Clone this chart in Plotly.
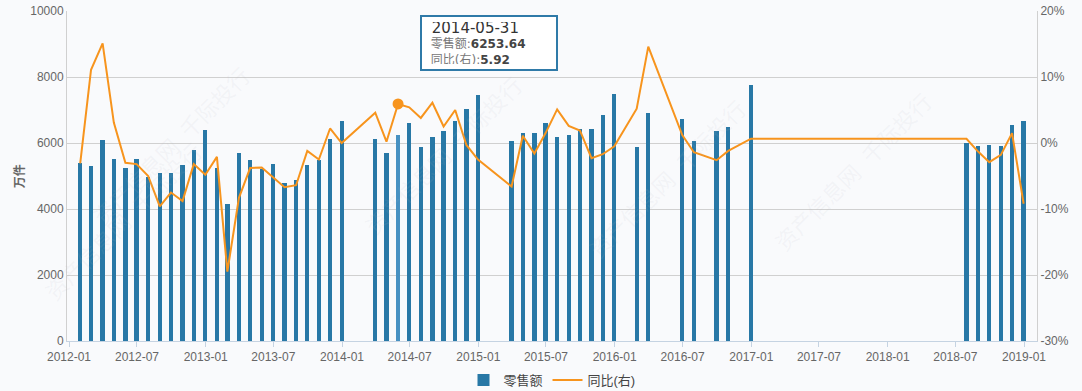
import calendar
import plotly.graph_objects as go

dates = (
    ["2012-%02d" % m for m in range(1, 13)]
    + ["2013-%02d" % m for m in range(1, 13)]
    + ["2014-%02d" % m for m in range(3, 13)]
    + ["2015-%02d" % m for m in range(3, 13)]
    + ["2016-02", "2016-03", "2016-06", "2016-07", "2016-09", "2016-10", "2016-12"]
    + ["2018-%02d" % m for m in range(7, 13)]
)


def month_end(ym):
    y, m = map(int, ym.split("-"))
    return "%04d-%02d-%02d" % (y, m, calendar.monthrange(y, m)[1])


x_dates = [month_end(d) for d in dates]

retail = [
    5390, 5290, 6080, 5530, 5230, 5530, 4960, 5100, 5100, 5320, 5800, 6380,
    5230, 4140, 5710, 5470, 5200, 5350, 4800, 4880, 5320, 5470, 6130, 6680,
    6110, 5690, 6253.64, 6600, 5890, 6170, 6350, 6660, 7020, 7460,
    6070, 6310, 6290, 6600, 6170, 6230, 6410, 6410, 6860, 7500,
    5870, 6920, 6720, 6070, 6350, 6470, 7770,
    5990, 5910, 5930, 5910, 6540, 6660,
]

yoy = [
    -3.1, 11.1, 15.1, 3.1, -3.0, -3.2, -5.0, -9.6, -7.5, -8.8, -3.2, -4.8,
    -2.1, -19.5, -8.3, -3.8, -3.7, -5.2, -6.7, -6.4, -1.2, -2.5, 2.2, 0.0,
    4.6, 0.2, 5.92, 5.4, 3.8, 6.1, 2.5, 5.0, -0.3, -2.5,
    -6.6, 1.1, -1.6, 1.5, 5.1, 2.6, 1.9, -2.3, -1.7, -0.5,
    5.2, 14.6, 1.2, -1.4, -2.6, -1.2, 0.65,
    0.65, -1.3, -2.9, -1.8, 1.5, -9.2,
]

highlight_date = "2014-05"
left_ticks = [0, 2000, 4000, 6000, 8000, 10000]
right_ticks = [-30, -20, -10, 0, 10, 20]

BAR = "#2878a6"
BAR_HI = "#4791c2"
LINE = "#f7941d"
FONT = "Liberation Sans, Noto Sans CJK SC, sans-serif"
TIP_FONT = "DejaVu Sans, Noto Sans CJK SC, sans-serif"

bar_colors = [BAR_HI if d == highlight_date else BAR for d in dates]
hi_idx = dates.index(highlight_date)

fig = go.Figure()
fig.add_trace(go.Bar(
    x=x_dates, y=retail, name="零售额",
    marker=dict(color=bar_colors, line=dict(width=0)),
    width=11.5 * 86400000, yaxis="y",
))
fig.add_trace(go.Scatter(
    x=x_dates, y=yoy, name="同比(右)", mode="lines",
    line=dict(color=LINE, width=2), yaxis="y2",
))
fig.add_trace(go.Scatter(
    x=[x_dates[hi_idx]], y=[yoy[hi_idx]], mode="markers",
    marker=dict(color=LINE, size=11), yaxis="y2", showlegend=False,
))

# faint watermark
for (wx, wy) in [(0.02, 0.85), (0.3, 0.3), (0.62, 0.75), (0.9, 0.25), (-0.03, 0.1)]:
    fig.add_annotation(
        x=wx, y=wy, xref="paper", yref="paper", text="资产信息网  千际投行",
        showarrow=False, textangle=-45,
        font=dict(size=22, color="rgba(180,185,195,0.10)", family=FONT),
    )

# tooltip box
fig.add_annotation(
    x=0.364, y=0.988, xref="paper", yref="paper", xanchor="left", yanchor="top",
    align="left", valign="middle", showarrow=False, width=124, height=42,
    text=("<span style='font-size:15px;color:#333'>&nbsp;2014-05-31</span><br>"
          "<span style='color:#777'>&nbsp;零售额:</span><b>6253.64</b><br>"
          "<span style='color:#777'>&nbsp;同比(右):</span><b>5.92</b>"),
    font=dict(size=12, color="#444", family=TIP_FONT),
    bgcolor="#ffffff", bordercolor="#2f7aa8", borderwidth=2, borderpad=5,
)

# y-axis title
fig.add_annotation(
    x=-0.059, y=0.5, xref="paper", yref="paper", text="<b>万件</b>",
    showarrow=False, textangle=-90, font=dict(size=12, color="#666", family=FONT),
)

fig.update_layout(
    width=1082, height=391,
    margin=dict(l=67, r=45, t=11, b=50, autoexpand=False),
    paper_bgcolor="#f9fafc", plot_bgcolor="#f9fafc",
    font=dict(family=FONT, size=12, color="#666"),
    bargap=0, hovermode=False,
    showlegend=True,
    legend=dict(orientation="h", x=0.5, xanchor="center", y=-0.118, yanchor="middle",
                font=dict(size=13, color="#444"), bgcolor="rgba(0,0,0,0)"),
    xaxis=dict(
        type="date", range=["2011-12-26 15:00", "2019-02-04 19:00"],
        tick0="2012-01-01", dtick="M6", tickformat="%Y-%m",
        ticks="outside", ticklen=5, tickcolor="#c5d3e2",
        showline=True, linecolor="#c5d3e2", linewidth=1,
        showgrid=False, zeroline=False,
        tickfont=dict(size=12, color="#666"),
    ),
    yaxis=dict(
        range=[0, 10000], tickvals=left_ticks,
        ticktext=[str(v) for v in left_ticks],
        showgrid=True, gridcolor="#d0d0d0", gridwidth=1,
        showline=True, linecolor="#d0d0d0", zeroline=False,
        tickfont=dict(size=12, color="#666"), ticks="",
    ),
    yaxis2=dict(
        range=[-30, 20], tickvals=right_ticks,
        ticktext=["%d%%" % v for v in right_ticks],
        overlaying="y", side="right", showgrid=False,
        showline=True, linecolor="#d0d0d0", zeroline=False,
        tickfont=dict(size=12, color="#666"), ticks="",
    ),
)

fig.write_html(
    "out.html",
    config={"displayModeBar": False},
    post_script="document.body.style.margin='0';document.body.style.padding='0';"
                "document.body.style.overflow='hidden';"
                "document.body.style.background='#f9fafc';",
)
